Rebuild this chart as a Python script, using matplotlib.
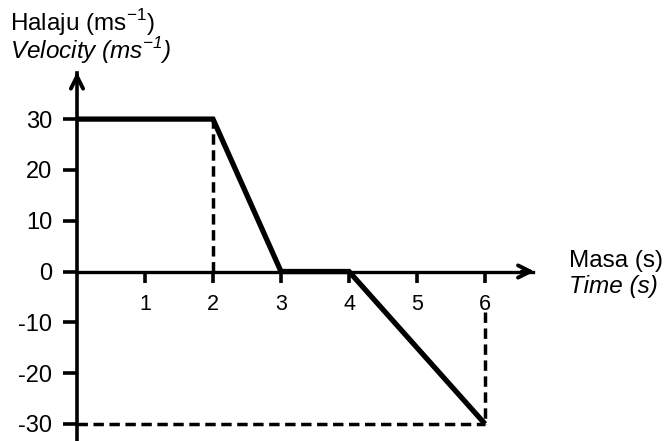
import numpy as np
import matplotlib
matplotlib.use("Agg")
import matplotlib.pyplot as plt

plt.rcParams['font.family'] = ['Liberation Sans', 'DejaVu Sans']

# velocity-time data
time = [0, 2, 3, 4, 6]
velocity = [30, 30, 0, 0, -30]

x_ticks = [1, 2, 3, 4, 5, 6]
y_ticks = [-30, -20, -10, 0, 10, 20, 30]

W, H = 667, 441
fig = plt.figure(figsize=(W / 100, H / 100), dpi=100)
ax = fig.add_axes([0, 0, 1, 1])
ax.patch.set_alpha(0)

# pixel mapping of the scan: origin at (77, 271.5), 68 px per s, 5.08 px per m/s
x0, sx = 77, 68.0
y0, sy = 271.5, 5.08
ax.set_xlim(-x0 / sx, (W - x0) / sx)
ax.set_ylim((y0 - H) / sy, y0 / sy)

for s in ['top', 'right']:
    ax.spines[s].set_visible(False)
ax.spines['left'].set_position(('data', 0))
ax.spines['bottom'].set_position(('data', 0))
ax.spines['left'].set_linewidth(2.6)
ax.spines['bottom'].set_linewidth(2.4)
ax.spines['left'].set_bounds((y0 - H) / sy, 39.0)
ax.spines['bottom'].set_bounds(0, 6.7)

# arrow heads
ax.annotate('', xy=(0, 39.8), xytext=(0, 37.5),
            arrowprops=dict(arrowstyle='->', lw=2.8, color='black', mutation_scale=22))
ax.annotate('', xy=(6.77, 0), xytext=(6.5, 0),
            arrowprops=dict(arrowstyle='->', lw=2.8, color='black', mutation_scale=22))

ax.set_xticks(x_ticks)
ax.set_xticklabels([str(t) for t in x_ticks])
ax.set_yticks(y_ticks)
ax.set_yticklabels([str(t) for t in y_ticks])
ax.tick_params(axis='x', direction='out', length=8, width=2.6, pad=8, labelsize=15.5)
ax.tick_params(axis='y', direction='out', length=10, width=2.6, pad=8, labelsize=17)

# dashed guide lines
dash = (0, (3.0, 1.6))
ax.plot([2, 2], [0, 30], color='black', lw=2.5, ls=dash, zorder=2)
ax.plot([6, 6], [-8, -30], color='black', lw=2.5, ls=dash, zorder=2)
ax.plot([0, 6], [-30, -30], color='black', lw=2.5, ls=dash, zorder=2)

# velocity line
ax.plot(time, velocity, color='black', lw=3.8, solid_joinstyle='miter',
        solid_capstyle='butt', zorder=3)

# axis titles
fig.text(10 / W, 1 - 31 / H, 'Halaju (ms$^{\\mathregular{-1}}$)', fontsize=17.5,
         ha='left', va='baseline')
fig.text(10 / W, 1 - 59 / H, 'Velocity (ms$^{\\mathregular{-1}}$)', fontsize=17.5,
         style='italic', ha='left', va='baseline')
fig.text(569 / W, 1 - 267 / H, 'Masa (s)', fontsize=17.5, ha='left', va='baseline')
fig.text(569 / W, 1 - 293 / H, 'Time (s)', fontsize=17.5, style='italic',
         ha='left', va='baseline')

fig.savefig('out.png', dpi=100)
